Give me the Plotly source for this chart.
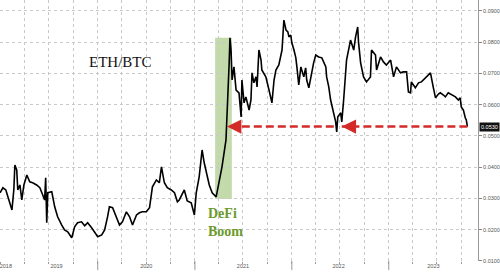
import plotly.graph_objects as go

dates = [
"2018-12-29","2019-01-09","2019-01-20","2019-01-31","2019-02-12","2019-02-19","2019-02-23","2019-03-02","2019-03-06","2019-03-14","2019-03-21","2019-03-29","2019-04-09","2019-04-20","2019-05-01","2019-05-16","2019-05-28","2019-06-08","2019-06-15","2019-06-19","2019-06-23","2019-06-27","2019-07-12","2019-07-23","2019-08-03","2019-08-18","2019-08-29","2019-09-10","2019-09-25","2019-09-28","2019-10-06","2019-10-17","2019-11-01","2019-11-13","2019-11-24","2019-12-09","2019-12-20",
"2020-01-01","2020-01-16","2020-01-27","2020-02-07","2020-02-14","2020-02-26","2020-03-12","2020-03-23","2020-04-03","2020-04-18","2020-04-30","2020-05-11","2020-05-26","2020-06-06","2020-06-17","2020-07-02","2020-07-14","2020-07-25","2020-08-09","2020-08-20","2020-08-28","2020-09-08","2020-09-19","2020-10-04","2020-10-16","2020-10-27","2020-11-03","2020-11-22","2020-12-03","2020-12-18","2020-12-30",
"2021-01-06","2021-01-17","2021-01-28","2021-02-05","2021-02-12","2021-02-24","2021-03-07","2021-03-22","2021-04-02","2021-04-13","2021-04-28","2021-05-02","2021-05-06","2021-05-10","2021-05-13","2021-05-17","2021-05-21","2021-05-28","2021-06-05","2021-06-16","2021-06-24","2021-06-27","2021-07-05","2021-07-12","2021-07-24","2021-07-31","2021-08-04","2021-08-11","2021-08-19","2021-08-23","2021-08-30","2021-09-07","2021-09-10","2021-09-25","2021-10-07","2021-10-14","2021-10-18","2021-10-26","2021-11-02","2021-11-13","2021-11-25","2021-12-02","2021-12-10","2021-12-17","2021-12-21","2021-12-28",
"2022-01-01","2022-01-09","2022-01-16","2022-01-20","2022-01-27","2022-02-04","2022-02-07","2022-02-15","2022-02-22","2022-02-26","2022-03-06","2022-03-13","2022-03-17","2022-03-24","2022-04-01","2022-04-12","2022-04-24","2022-05-09","2022-05-12","2022-05-20","2022-05-27","2022-05-31","2022-06-08","2022-06-15","2022-06-19","2022-06-23","2022-07-04","2022-07-08","2022-07-15","2022-07-23","2022-07-26","2022-08-10","2022-08-22","2022-08-29","2022-09-06","2022-09-09","2022-09-17","2022-09-28","2022-10-09","2022-10-24","2022-10-28","2022-11-12","2022-11-16","2022-12-01","2022-12-12","2022-12-23",
"2023-01-08","2023-01-19","2023-01-30","2023-02-14","2023-02-25","2023-03-09","2023-03-16","2023-03-24","2023-03-27","2023-04-11","2023-04-23","2023-05-04","2023-05-19","2023-05-30","2023-06-07","2023-06-18","2023-06-26","2023-07-07","2023-07-14","2023-07-26","2023-08-02","2023-08-13","2023-08-25","2023-09-09","2023-09-20","2023-09-27","2023-10-01","2023-10-09","2023-10-16","2023-10-20","2023-10-24"]

eth_btc = [
0.0318,0.0334,0.0327,0.0295,0.0263,0.0327,0.0407,0.0391,0.0327,0.0343,0.0295,0.0343,0.0375,0.0353,0.0350,0.0343,0.0334,0.0311,0.0295,0.0366,0.0222,0.0318,0.0321,0.0273,0.0241,0.0215,0.0199,0.0193,0.0174,0.0183,0.0209,0.0222,0.0225,0.0212,0.0222,0.0206,0.0193,
0.0177,0.0183,0.0199,0.0241,0.0273,0.0270,0.0241,0.0215,0.0225,0.0257,0.0241,0.0215,0.0247,0.0254,0.0257,0.0257,0.0270,0.0337,0.0359,0.0350,0.0401,0.0350,0.0334,0.0327,0.0318,0.0289,0.0295,0.0327,0.0292,0.0286,0.0247,
0.0318,0.0369,0.0455,0.0414,0.0391,0.0343,0.0318,0.0305,0.0353,0.0401,0.0487,0.0561,0.0625,0.0734,0.0814,0.0775,0.0679,0.0721,0.0647,0.0638,0.0561,0.0679,0.0606,0.0625,0.0583,0.0615,0.0702,0.0670,0.0689,0.0657,0.0775,0.0743,0.0711,0.0689,0.0647,0.0625,0.0606,0.0679,0.0711,0.0727,0.0775,0.0871,0.0839,0.0833,0.0817,0.0823,
0.0798,0.0775,0.0750,0.0721,0.0663,0.0721,0.0711,0.0689,0.0718,0.0679,0.0654,0.0689,0.0705,0.0734,0.0759,0.0753,0.0750,0.0721,0.0689,0.0657,0.0615,0.0599,0.0574,0.0545,0.0513,0.0561,0.0574,0.0545,0.0615,0.0689,0.0743,0.0807,0.0775,0.0817,0.0849,0.0801,0.0734,0.0689,0.0673,0.0689,0.0775,0.0759,0.0711,0.0753,0.0737,0.0727,
0.0743,0.0689,0.0721,0.0702,0.0705,0.0705,0.0641,0.0638,0.0673,0.0654,0.0670,0.0673,0.0686,0.0695,0.0702,0.0654,0.0622,0.0634,0.0638,0.0631,0.0625,0.0638,0.0631,0.0625,0.0615,0.0622,0.0593,0.0583,0.0558,0.0551,0.0530]

year_label_dates = ["2019-01-20", "2019-07-30", "2020-07-02", "2021-07-01", "2022-06-26", "2023-06-18"]
year_labels = ["2018", "2019", "2020", "2021", "2022", "2023"]
year_boundaries = ["2020-01-01", "2021-01-01", "2022-01-01", "2023-01-01"]
y_ticks = [0.01, 0.02, 0.03, 0.04, 0.05, 0.06, 0.07, 0.08, 0.09]

defi_start, defi_end = "2021-03-18", "2021-05-20"
defi_low, defi_high = 0.0298, 0.0814
arrow1 = ["2022-06-08", "2021-05-02"]
arrow2 = ["2023-10-24", "2022-07-08"]
last_val = eth_btc[-1]

RED = "#d42a2a"
GRID = "#c9c9c9"

fig = go.Figure()
fig.add_trace(go.Scatter(x=dates, y=eth_btc, mode="lines",
                         line=dict(color="#000000", width=1.6), hoverinfo="skip"))
for seg in (arrow1, arrow2):
    fig.add_trace(go.Scatter(x=seg, y=[last_val, last_val], mode="lines",
                             line=dict(color=RED, width=2.6, dash="8px,4px"), hoverinfo="skip"))
    fig.add_annotation(x=seg[1], y=last_val, ax=8, ay=0, text="", showarrow=True,
                       arrowhead=2, arrowsize=1.1, arrowwidth=2.6, arrowcolor=RED)

fig.add_shape(type="rect", xref="x", yref="y", x0=defi_start, x1=defi_end,
              y0=defi_low, y1=defi_high, fillcolor="#c3dbab", line_width=0, layer="below")

for d in year_boundaries:
    fig.add_shape(type="line", xref="x", yref="paper", x0=d, x1=d, y0=0, y1=-0.035,
                  line=dict(color="#999999", width=1))

fig.add_annotation(xref="paper", yref="paper", x=0.181, y=0.80, text="ETH/BTC",
                   showarrow=False, font=dict(family="Liberation Serif", size=15, color="#111111"))
fig.add_annotation(xref="x", yref="y", x="2021-02-12", y=0.0222, text="DeFi<br>Boom",
                   showarrow=False, xanchor="left", align="left",
                   font=dict(family="Liberation Serif", size=14, color="#6c9a2c", weight="bold"))
fig.add_annotation(xref="paper", yref="y", x=1.0, y=last_val, text=f"{last_val:.4f}",
                   showarrow=False, xanchor="left", xshift=1, bgcolor="#111111",
                   font=dict(family="Liberation Sans", size=5.5, color="#ffffff"), borderpad=1)

fig.update_layout(
    width=500, height=277, margin=dict(l=0, r=20, t=0, b=16),
    paper_bgcolor="white", plot_bgcolor="white", showlegend=False,
    xaxis=dict(type="date", range=["2018-12-29", "2023-12-03"],
               tickmode="array", tickvals=year_label_dates, ticktext=year_labels,
               ticks="", showgrid=False, zeroline=False, showline=False,
               ticklabeloverflow="allow",
               tickfont=dict(family="Liberation Sans", size=5.5, color="#555555"),
               minor=dict(tickmode="linear", tick0="2019-01-01", dtick="M3", showgrid=True,
                          gridcolor=GRID, griddash="dot", gridwidth=1,
                          ticks="outside", ticklen=2, tickcolor="#999999")),
    yaxis=dict(side="right", range=[0.00995, 0.09352], tickmode="array", tickvals=y_ticks,
               tickformat=".4f", ticks="outside", ticklen=3, tickcolor="#888888",
               showline=True, linecolor="#999999", linewidth=1, mirror=False,
               showgrid=True, gridcolor=GRID, griddash="dot", zeroline=False,
               tickfont=dict(family="Liberation Sans", size=5.5, color="#555555")),
)

fig.write_html("out.html")
